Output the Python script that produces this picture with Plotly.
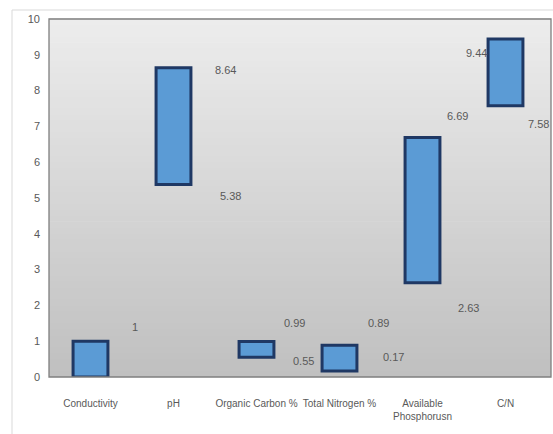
import plotly.graph_objects as go

categories = ["Conductivity", "pH", "Organic Carbon %", "Total Nitrogen %",
              "Available<br>Phosphorusn", "C/N"]
low_values = [0, 5.38, 0.55, 0.17, 2.63, 7.58]
high_values = [1, 8.64, 0.99, 0.89, 6.69, 9.44]
high_labels = ["1", "8.64", "0.99", "0.89", "6.69", "9.44"]
low_labels = ["", "5.38", "0.55", "0.17", "2.63", "7.58"]
y_ticks = list(range(0, 11))

# label offsets in pixels (style)
high_shift = [(44, 14), (52, -2), (38, 19), (39, 22), (35, 22), (-29, -14)]
low_shift = [(0, 0), (57, -12), (47, -4), (54, 14), (46, -25), (33, -18)]

FONT = "Liberation Sans, Arial, sans-serif"
TXT = "#595959"

fig = go.Figure()
fig.add_trace(go.Bar(
    x=categories,
    y=[h - l for h, l in zip(high_values, low_values)],
    base=low_values,
    width=0.42,
    marker=dict(color="#5b9bd5", line=dict(color="#1f3864", width=3)),
    hoverinfo="skip",
))

annotations = []
for i, c in enumerate(categories):
    annotations.append(dict(x=c, y=high_values[i], text=high_labels[i], showarrow=False,
                            xshift=high_shift[i][0], yshift=high_shift[i][1],
                            font=dict(family=FONT, size=11, color=TXT)))
    if low_labels[i]:
        annotations.append(dict(x=c, y=low_values[i], text=low_labels[i], showarrow=False,
                                xshift=low_shift[i][0], yshift=low_shift[i][1],
                                font=dict(family=FONT, size=11, color=TXT)))

# gradient background
shapes = []
n = 60
top = (236, 236, 236)
bot = (192, 192, 192)
for k in range(n):
    t = k / (n - 1)
    col = tuple(int(round(bot[j] + (top[j] - bot[j]) * t)) for j in range(3))
    shapes.append(dict(type="rect", xref="paper", yref="paper", x0=0, x1=1,
                       y0=k / n, y1=(k + 1) / n + 0.002, layer="below",
                       line=dict(width=0), fillcolor="rgb(%d,%d,%d)" % col))
# plot border
shapes.append(dict(type="rect", xref="paper", yref="paper", x0=0, x1=1, y0=0, y1=1,
                   line=dict(color="#7f7f7f", width=1.3), layer="above"))
# outer chart frame
shapes.append(dict(type="line", xref="paper", yref="paper", x0=-0.0737, x1=-0.0737,
                   y0=1.0251, y1=-0.17, line=dict(color="#d9d9d9", width=1)))
shapes.append(dict(type="line", xref="paper", yref="paper", x0=-0.0737, x1=1.01,
                   y0=1.0251, y1=1.0251, line=dict(color="#d9d9d9", width=1)))

fig.update_layout(
    width=553, height=434,
    margin=dict(l=49, r=2, t=19, b=57, autoexpand=False),
    paper_bgcolor="white",
    plot_bgcolor="rgba(0,0,0,0)",
    showlegend=False,
    shapes=shapes,
    annotations=annotations,
    font=dict(family=FONT, size=11, color=TXT),
)
fig.update_xaxes(showgrid=False, zeroline=False, showline=False, ticks="",
                 tickangle=0, ticklabelstandoff=19,
                 tickfont=dict(family=FONT, size=10, color=TXT))
fig.update_yaxes(range=[0, 10], tickvals=y_ticks, showgrid=False, zeroline=False,
                 showline=False, ticks="", ticklabelstandoff=8,
                 tickfont=dict(family=FONT, size=11, color=TXT))

fig.write_html("out.html",
               config={"displayModeBar": False},
               post_script="document.body.style.margin='0px';"
                           "document.body.style.overflow='hidden';")
